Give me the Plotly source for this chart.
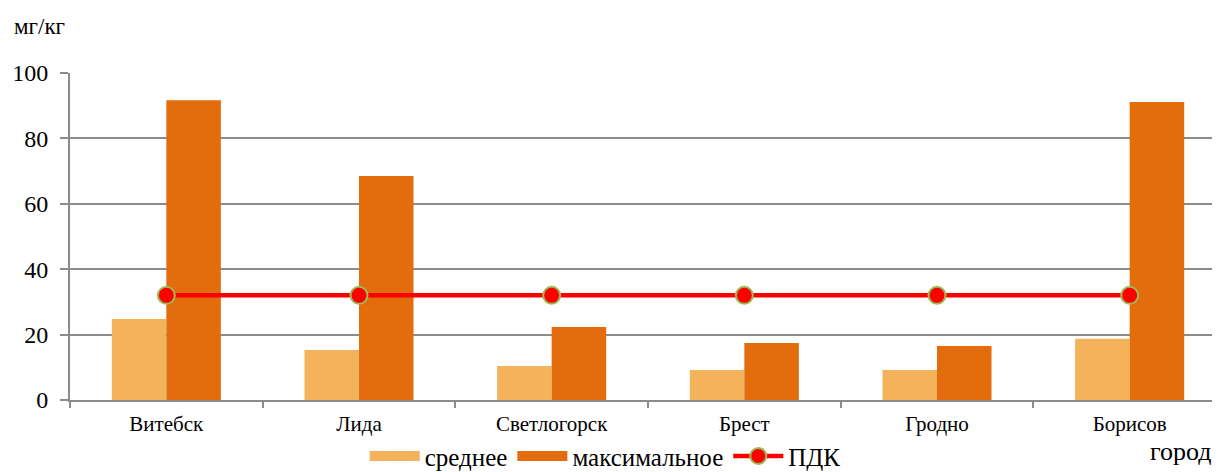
import plotly.graph_objects as go

cities = ["Витебск", "Лида", "Светлогорск", "Брест", "Гродно", "Борисов"]
avg_vals = [24.8, 15.3, 10.4, 9.2, 9.2, 18.7]
max_vals = [91.7, 68.5, 22.3, 17.4, 16.5, 91.1]
pdk_vals = [32, 32, 32, 32, 32, 32]

c_avg = "#F4B25B"
c_max = "#E36C0C"
font = "Liberation Serif"

fig = go.Figure()
fig.add_trace(go.Bar(x=cities, y=avg_vals, name="среднее", marker=dict(color=c_avg, line=dict(width=0)),
                     showlegend=False))
fig.add_trace(go.Bar(x=cities, y=max_vals, name="максимальное", marker=dict(color=c_max, line=dict(width=0)),
                     showlegend=False))
fig.add_trace(go.Scatter(x=cities, y=pdk_vals, mode="lines+markers", name="ПДК",
                         line=dict(color="#FF0000", width=4.5),
                         marker=dict(size=17, color="#FF0000", line=dict(color="#9BBB59", width=2)),
                         showlegend=False))
# legend entries
fig.add_trace(go.Scatter(x=[None], y=[None], mode="lines", name="среднее",
                         line=dict(color=c_avg, width=14)))
fig.add_trace(go.Scatter(x=[None], y=[None], mode="lines", name="максимальное",
                         line=dict(color=c_max, width=14)))
fig.add_trace(go.Scatter(x=[None], y=[None], mode="lines+markers", name="ПДК",
                         line=dict(color="#FF0000", width=4.5),
                         marker=dict(size=16, color="#FF0000", line=dict(color="#9BBB59", width=2))))

fig.update_layout(
    width=1220, height=472,
    margin=dict(l=62, r=2, t=65, b=80, autoexpand=False),
    paper_bgcolor="white", plot_bgcolor="white",
    barmode="group", bargap=0.434, bargroupgap=0,
    font=dict(family=font, color="black"),
    legend=dict(orientation="h", x=0.463, xanchor="center", y=-0.172, yanchor="middle",
                bgcolor="rgba(0,0,0,0)",
                font=dict(size=25, family=font), itemwidth=50, tracegroupgap=0),
    xaxis=dict(type="category", range=[-0.5, 5.5], tickson="boundaries", ticks="outside",
               ticklen=6, tickcolor="#8c8c8c", tickwidth=2, showline=True, linecolor="#8c8c8c",
               linewidth=2, tickfont=dict(size=21, family=font), showgrid=False,
               ticklabelstandoff=4, automargin=False),
    yaxis=dict(range=[0, 100], dtick=20, ticks="outside", ticklen=8, tickcolor="#8c8c8c", tickwidth=2,
               showline=True, linecolor="#8c8c8c", linewidth=2, gridcolor="#8c8c8c", gridwidth=2,
               tickfont=dict(size=24, family=font), zeroline=False, ticklabelstandoff=7,
               automargin=False),
    annotations=[
        dict(text="мг/кг", xref="paper", yref="paper", x=-0.050, y=1.1407, xanchor="left", yanchor="middle",
             showarrow=False, font=dict(size=23, family=font)),
        dict(text="город", xref="paper", yref="paper", x=0.990, y=-0.159, xanchor="right", yanchor="middle",
             showarrow=False, font=dict(size=26, family=font)),
    ],
)

fig.write_html("out.html")
